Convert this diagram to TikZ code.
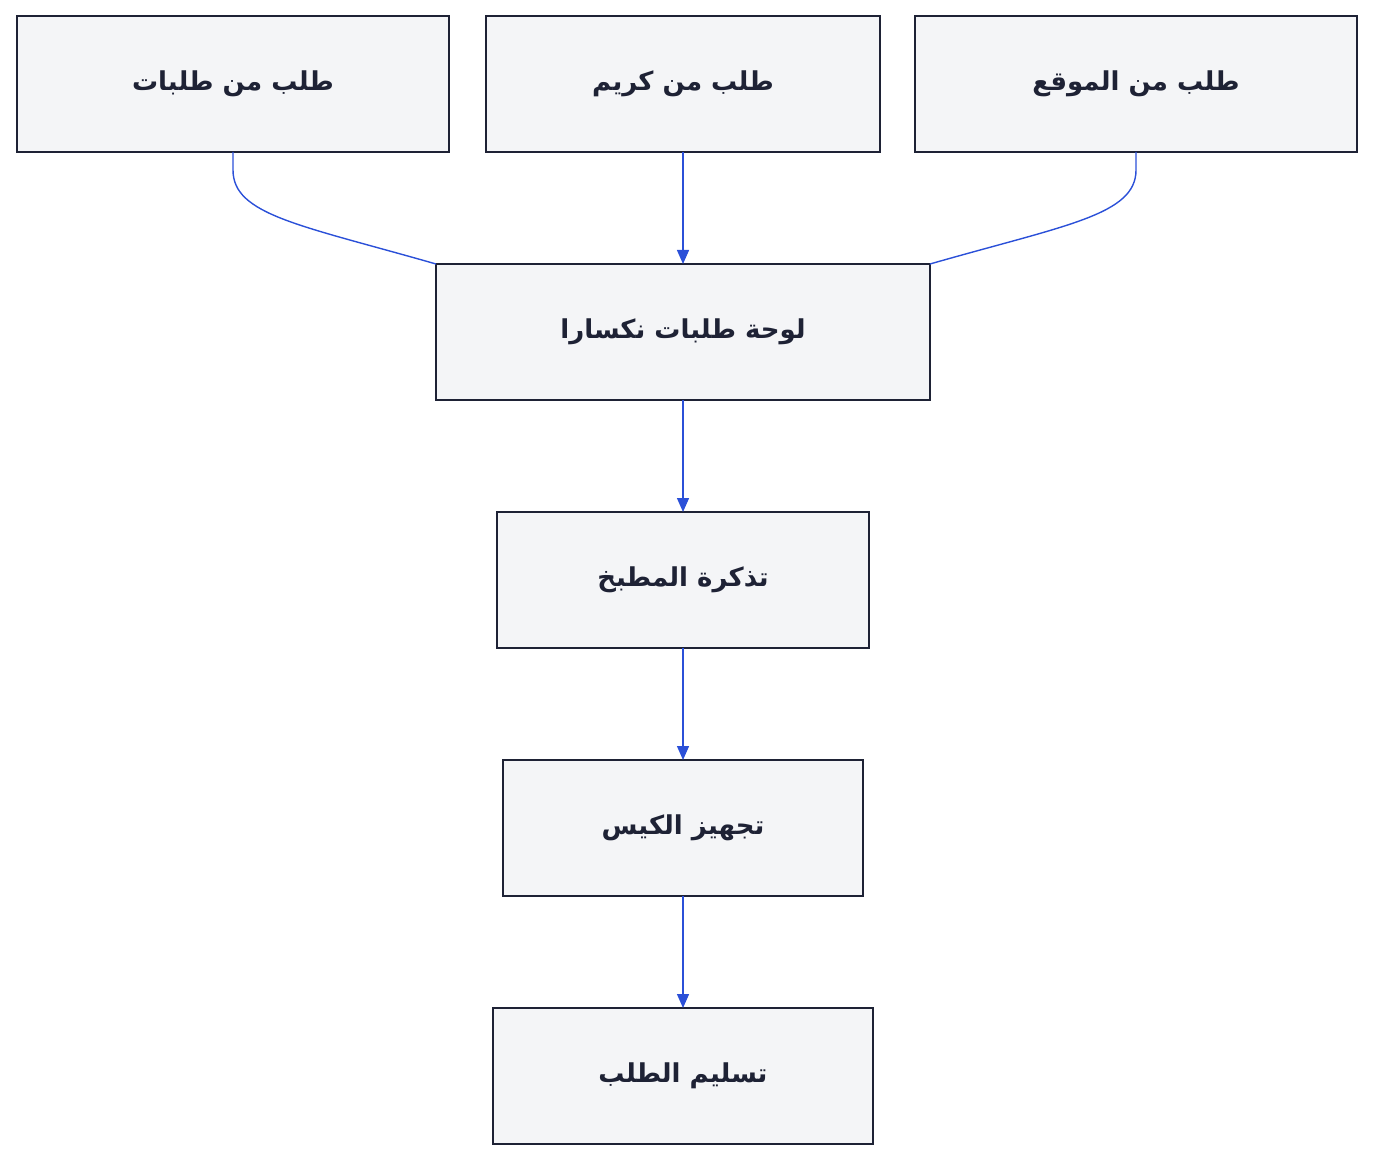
\documentclass[tikz,border=0pt]{standalone}
\usepackage{fontspec}
\newfontfamily\arfont[Script=Arabic]{DejaVu Sans}
\TeXXeTstate=1
\usetikzlibrary{arrows.meta}
\definecolor{edge}{HTML}{2B50D8}
\definecolor{boxline}{HTML}{1E2235}
\definecolor{boxfill}{HTML}{F4F5F7}
\begin{document}
\begin{tikzpicture}[x=0.5pt,y=-0.5pt,
 box/.style={draw=boxline,fill=boxfill,line width=0.7pt},
 lab/.style={font=\arfont\bfseries\fontsize{13}{15}\selectfont,text=boxline},
 con/.style={draw=edge,line width=0.7pt},
 arr/.style={con,-{Triangle[length=7pt,width=6pt]}}]
\useasboundingbox (0,0) rectangle (1374,1160);
\newcommand\bx[6]{\draw[box] (#2,#3) rectangle (#4,#5); \node[lab] (#1) at ({(#2+#4)/2},{(#3+#5)/2}) {\beginR #6\endR};
 \coordinate (#1n) at ({(#2+#4)/2},#3); \coordinate (#1s) at ({(#2+#4)/2},#5);
 \coordinate (#1nw) at (#2,#3); \coordinate (#1ne) at (#4,#3);}
\bx{a}{17}{16}{449}{152}{طلب من طلبات}
\bx{b}{486}{16}{880}{152}{طلب من كريم}
\bx{c}{915}{16}{1357}{152}{طلب من الموقع}
\bx{d}{436}{264}{930}{400}{لوحة طلبات نكسارا}
\bx{e}{497}{512}{869}{648}{تذكرة المطبخ}
\bx{f}{503}{760}{863}{896}{تجهيز الكيس}
\bx{g}{493}{1008}{873}{1144}{تسليم الطلب}
\draw[con] (as) -- (233,170) .. controls (233,215) and (300,225) .. (dnw);
\draw[con] (cs) -- (1136,170) .. controls (1136,215) and (1066,225) .. (dne);
\draw[arr] (bs) -- (dn);
\draw[arr] (ds) -- (en);
\draw[arr] (es) -- (fn);
\draw[arr] (fs) -- (gn);
\end{tikzpicture}
\end{document}
